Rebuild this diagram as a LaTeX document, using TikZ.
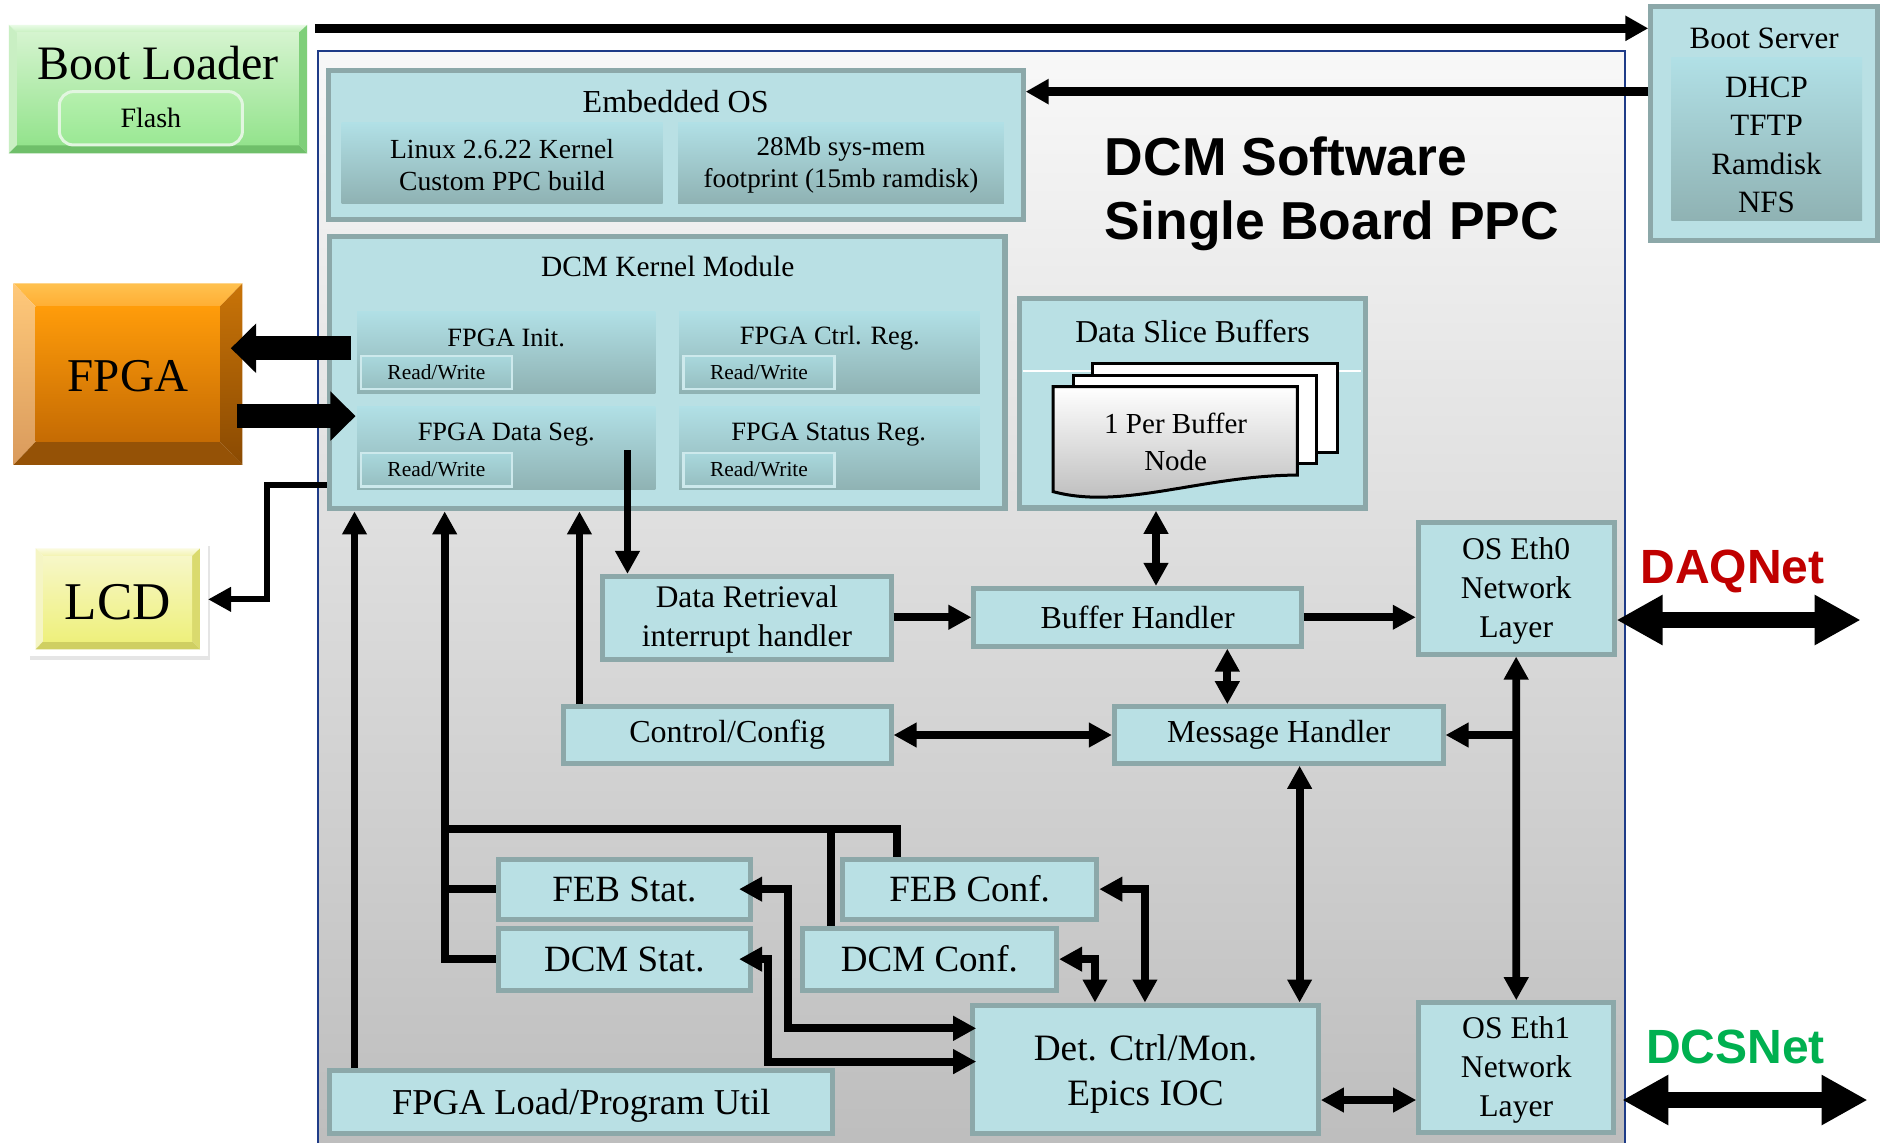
\documentclass[tikz,border=0pt]{standalone}
\usepackage{fontspec}
\setmainfont{Liberation Serif}
\newfontfamily\sansbf{Liberation Sans}
\usetikzlibrary{arrows.meta,fit,calc}
\definecolor{bfill}{HTML}{B9E0E4}
\definecolor{bbord}{HTML}{8CA8A9}
\definecolor{ptop}{HTML}{B1E0E6}
\definecolor{pbot}{HTML}{8FB2B3}
\definecolor{rwbord}{HTML}{CDE9EC}
\definecolor{rwtop}{HTML}{A9D8DD}
\definecolor{rwbot}{HTML}{96BEC0}
\definecolor{boardtop}{HTML}{F8F8F8}
\definecolor{boardbot}{HTML}{BDBDBD}
\definecolor{boardb}{HTML}{1F3C88}
\definecolor{daqred}{HTML}{C00000}
\definecolor{dcsgreen}{HTML}{00B050}
\definecolor{blA}{HTML}{E8FBE5}\definecolor{blB}{HTML}{C8F0C0}\definecolor{blC}{HTML}{D5F4CF}
\definecolor{blD}{HTML}{93E38C}\definecolor{blE}{HTML}{C9EFC3}\definecolor{blF}{HTML}{7FCF7A}
\definecolor{blG}{HTML}{6FBF6A}\definecolor{flA}{HTML}{E2F6E0}\definecolor{flB}{HTML}{B6F0AE}
\definecolor{flC}{HTML}{9AE894}
\definecolor{fA}{HTML}{FFC14F}\definecolor{fB}{HTML}{FFAE33}\definecolor{fC}{HTML}{FFC97A}
\definecolor{fD}{HTML}{D99A5C}\definecolor{fE}{HTML}{C97408}\definecolor{fF}{HTML}{8A4A02}
\definecolor{fG}{HTML}{955206}\definecolor{fH}{HTML}{FF9C0A}\definecolor{fI}{HTML}{C56B03}
\definecolor{lA}{HTML}{FBFBE0}\definecolor{lB}{HTML}{F3F3B0}\definecolor{lC}{HTML}{F5F5C4}
\definecolor{lD}{HTML}{DADA6E}\definecolor{lE}{HTML}{CFCF62}\definecolor{lF}{HTML}{F7F7C8}
\definecolor{lG}{HTML}{EEF07C}\definecolor{dgray}{HTML}{B8B8B8}
\newcommand\fsz[2]{\fontsize{#1pt}{#2pt}\selectfont}
\begin{document}
\begin{tikzpicture}[x=0.6pt,y=-0.6pt,
  box/.style={draw=bbord, line width=2.5pt, fill=bfill, inner sep=0pt},
  panel/.style={draw=none, top color=ptop, bottom color=pbot, inner sep=0pt},
  rwbox/.style={draw=rwbord, line width=1.2pt, top color=rwtop, bottom color=rwbot, inner sep=0pt},
  lbl/.style={inner sep=0pt, align=center},
  rwt/.style={lbl, font=\fsz{10.7}{12}},
  conn/.style={line width=3.9pt, line join=miter, -{Triangle[length=11.5pt,width=11.7pt]}},
  dconn/.style={line width=3.9pt, line join=miter, {Triangle[length=11.5pt,width=11.7pt]}-{Triangle[length=11.5pt,width=11.7pt]}},
  wire/.style={line width=3.9pt, line join=miter},
  thickconn/.style={line width=4.2pt, -{Triangle[length=11.5pt,width=12pt]}},
  bigd/.style={line width=8.3pt, {Triangle[length=23pt,width=23.5pt]}-{Triangle[length=23pt,width=23.5pt]}},
  fatarrow/.style={line width=12pt, -{Triangle[length=12.6pt,width=24pt]}}
]
\clip (0,0) rectangle (1568,951);
\fill[white] (0,0) rectangle (1568,951);

% ---------- board ----------
\node[fit={(264.7,42.2) (1352.8,962)}, inner sep=0pt, draw=boardb, line width=1pt,
      top color=boardtop, bottom color=boardbot] (board) {};

% ---------- Boot Loader ----------
\shade[top color=blA, bottom color=blB] (7.4,20.8) -- (255.8,20.8) -- (249,27) -- (14,27) -- cycle;
\shade[top color=blC, bottom color=blD] (14,27) rectangle (249,121);
\fill[blE] (7.4,20.8) -- (14,27) -- (14,121) -- (7.4,127.7) -- cycle;
\fill[blF] (255.8,20.8) -- (249,27) -- (249,121) -- (255.8,127.7) -- cycle;
\fill[blG] (7.4,127.7) -- (14,121) -- (249,121) -- (255.8,127.7) -- cycle;
\node[fit={(7.4,20.8) (255.8,127.7)}, inner sep=0pt] (bootloader) {};
\node[lbl, anchor=base, font=\fsz{24}{28}] (bltext) at (131.6,66.6) {Boot Loader};
\node[fit={(49.4,76.3) (201.9,120.7)}, inner sep=0pt, rounded corners=7pt, draw=flA, line width=1.5pt,
      top color=flB, bottom color=flC] (flash) {};
\node[lbl, font=\fsz{14}{16}] (flashT) at (flash.center) {Flash};

% ---------- Boot Server ----------
\node[box, fit={(1374.6,5.6) (1563.3,199.9)}] (bootserver) {};
\node[lbl, font=\fsz{15.5}{19}] (bstitle) at (1469,31.9) {Boot Server};
\node[panel, fit={(1391.7,47.7) (1550.5,183.8)}] (bsinner) {};
\node[lbl, font=\fsz{15.5}{19.2}] (bstext) at (1471,120.5) {DHCP\\TFTP\\Ramdisk\\NFS};

% ---------- Embedded OS ----------
\node[box, fit={(273.2,58.3) (852,183)}] (embos) {};
\node[lbl, font=\fsz{16}{19}] (embtitle) at (562.6,84.7) {Embedded OS};
\node[panel, fit={(284.4,102) (551.7,169.3)}] (linux) {};
\node[lbl, font=\fsz{13.8}{15.8}] (linuxT) at ($(linux.center)+(0,2)$) {Linux 2.6.22 Kernel\\Custom PPC build};
\node[panel, fit={(564.7,102) (836,169.3)}] (mem) {};
\node[lbl, font=\fsz{13.5}{15.8}] (memT) at ($(mem.center)+(0,2)$) {28Mb sys-mem\\footprint (15mb ramdisk)};

% ---------- Title ----------
\node[lbl, anchor=base west, font=\sansbf\bfseries\fsz{26.7}{32}] (title1) at (919.7,146) {DCM Software};
\node[lbl, anchor=base west, font=\sansbf\bfseries\fsz{26.7}{32}] (title2) at (919.7,199.5) {Single Board PPC};

% ---------- Kernel module ----------
\node[box, line width=2.8pt, fit={(274.4,197) (837,423.5)}] (kernel) {};
\node[lbl, font=\fsz{14.7}{17}] (kertitle) at (556,222) {DCM Kernel Module};
\node[panel, fit={(297.4,259) (545.7,327.5)}] (fpgainit) {};
\node[lbl, font=\fsz{13.2}{15}] (t1) at (421.5,281.7) {FPGA Init.};
\node[rwbox, fit={(300.4,296.4) (426.4,324)}] (rw1) {};
\node[rwt] (rw1T) at (rw1.center) {Read/Write};
\node[panel, fit={(565.5,259) (816,327.5)}] (fpgactrl) {};
\node[lbl, font=\fsz{13.2}{15}] (t2) at (691,281.7) {FPGA Ctrl. Reg.};
\node[rwbox, fit={(569,296.4) (695,324)}] (rw2) {};
\node[rwt] (rw2T) at (rw2.center) {Read/Write};
\node[panel, fit={(297.4,338.3) (545.7,408)}] (fpgadata) {};
\node[lbl, font=\fsz{13.2}{15}] (t3) at (421.5,362) {FPGA Data Seg.};
\node[rwbox, fit={(300.4,377) (426.4,405)}] (rw3) {};
\node[rwt] (rw3T) at (rw3.center) {Read/Write};
\node[panel, fit={(565.5,338.3) (816,408)}] (fpgastat) {};
\node[lbl, font=\fsz{13.2}{15}] (t4) at (690,362) {FPGA Status Reg.};
\node[rwbox, fit={(569,377) (695,405)}] (rw4) {};
\node[rwt] (rw4T) at (rw4.center) {Read/Write};

% ---------- FPGA ----------
\shade[top color=fA, bottom color=fB] (11.2,235.9) -- (201.9,235.9) -- (183,255.4) -- (29.7,255.4) -- cycle;
\shade[top color=fC, bottom color=fD] (11.2,235.9) -- (29.7,255.4) -- (29.7,367.8) -- (11.2,387.2) -- cycle;
\shade[top color=fE, bottom color=fF] (201.9,235.9) -- (183,255.4) -- (183,367.8) -- (201.9,387.2) -- cycle;
\fill[fG] (11.2,387.2) -- (29.7,367.8) -- (183,367.8) -- (201.9,387.2) -- cycle;
\shade[top color=fH, bottom color=fI] (29.7,255.4) rectangle (183,367.8);
\node[fit={(11.2,235.9) (201.9,387.2)}, inner sep=0pt] (fpga) {};
\node[lbl, anchor=base, font=\fsz{23.5}{27}] (fpgatext) at (106.5,326) {FPGA};

% ---------- LCD ----------
\fill[black!10] (25,455) rectangle (175,550);
\fill[white] (23,451.9) rectangle (172.9,546.3);
\shade[top color=lA, bottom color=lB] (29.7,456.6) -- (166.5,456.6) -- (160,463) -- (36,463) -- cycle;
\fill[lC] (29.7,456.6) -- (36,463) -- (36,534) -- (29.7,540.7) -- cycle;
\fill[lD] (166.5,456.6) -- (160,463) -- (160,534) -- (166.5,540.7) -- cycle;
\fill[lE] (29.7,540.7) -- (36,534) -- (160,534) -- (166.5,540.7) -- cycle;
\shade[top color=lF, bottom color=lG] (36,463) rectangle (160,534);
\node[fit={(23,451.9) (172.9,546.3)}, inner sep=0pt] (lcd) {};
\node[lbl, anchor=base, font=\fsz{26.5}{30}] (lcdtext) at (98,515.7) {LCD};

% ---------- Data slice buffers ----------
\node[box, line width=2.8pt, fit={(849,248.5) (1137,423)}] (dsb) {};
\node[lbl, font=\fsz{15.9}{19}] (dsbtitle) at (993,276) {Data Slice Buffers};
\draw[white, line width=0.8pt] (852,309) -- (1133,309);
\filldraw[fill=white, draw=black, line width=1.5pt] (909.5,302.6) rectangle (1113.4,376.7);
\filldraw[fill=white, draw=black, line width=1.5pt] (894,312.3) rectangle (1096.5,385.8);
\shade[top color=white, bottom color=dgray] (877,322) -- (1080.3,322) -- (1080.3,395.6)
   .. controls (1000,396) and (935,425) .. (877,409.4) -- cycle;
\draw[black, line width=1.5pt] (877,322) -- (1080.3,322) -- (1080.3,395.6)
   .. controls (1000,396) and (935,425) .. (877,409.4) -- cycle;
\node[lbl, font=\fsz{14.5}{18}] (bufnode) at (979,368) {1 Per Buffer\\Node};

% ---------- handlers ----------
\node[box, fit={(502,480) (742,549.5)}] (dataret) {};
\node[lbl, font=\fsz{15.7}{19.2}] (dataretT) at ($(dataret.center)+(0,1)$) {Data Retrieval\\interrupt handler};
\node[box, fit={(811,490) (1083.7,538)}] (bufh) {};
\node[lbl, font=\fsz{16}{19}] (bufhT) at (bufh.center) {Buffer Handler};
\node[box, fit={(1181,435) (1344,544.6)}] (eth0) {};
\node[lbl, font=\fsz{15.8}{19.5}] (eth0T) at ($(eth0.center)+(0,2)$) {OS Eth0\\Network\\Layer};
\node[box, fit={(469,588.5) (742,635.6)}] (ctrl) {};
\node[lbl, font=\fsz{16}{19}] (ctrlT) at (ctrl.center) {Control/Config};
\node[box, fit={(928,588.5) (1201.6,635.6)}] (msgh) {};
\node[lbl, font=\fsz{16}{19}] (msghT) at (msgh.center) {Message Handler};
\node[box, fit={(414.7,715.3) (625,765.5)}] (febstat) {};
\node[lbl, font=\fsz{18.5}{22}] (febstatT) at (febstat.center) {FEB Stat.};
\node[box, fit={(414.7,773) (625,824.4)}] (dcmstat) {};
\node[lbl, font=\fsz{18.5}{22}] (dcmstatT) at (dcmstat.center) {DCM Stat.};
\node[box, fit={(701.5,715.3) (913.3,765.5)}] (febconf) {};
\node[lbl, font=\fsz{18.5}{22}] (febconfT) at (febconf.center) {FEB Conf.};
\node[box, fit={(668,773) (879.8,824.4)}] (dcmconf) {};
\node[lbl, font=\fsz{18.5}{22}] (dcmconfT) at (dcmconf.center) {DCM Conf.};
\node[box, fit={(810,836.9) (1097.8,943.5)}] (det) {};
\node[lbl, font=\fsz{18.6}{22.2}] (detT) at ($(det.center)+(0,4)$) {Det. Ctrl/Mon.\\Epics IOC};
\node[box, fit={(1181.4,835) (1343.8,943)}] (eth1) {};
\node[lbl, font=\fsz{15.8}{19.5}] (eth1T) at ($(eth1.center)+(0,2)$) {OS Eth1\\Network\\Layer};
\node[box, fit={(274.7,891.6) (693.4,943.7)}] (fpgaload) {};
\node[lbl, font=\fsz{18.2}{22}] (fpgaloadT) at ($(fpgaload.center)+(0,3)$) {FPGA Load/Program Util};

\node[lbl, anchor=base west, text=daqred, font=\sansbf\bfseries\fsz{24}{28}] (daqnet) at (1365.6,485.7) {DAQNet};
\node[lbl, anchor=base west, text=dcsgreen, font=\sansbf\bfseries\fsz{24}{28}] (dcsnet) at (1370.3,885.4) {DCSNet};

% ---------- helper coordinates ----------
\coordinate (ytop) at (0,23.6);
\coordinate (yboot) at (0,76.3);
\coordinate (yfin) at (0,290);
\coordinate (yfout) at (0,346.5);
\coordinate (lcdj) at (222,404);
\coordinate (xd) at (522.5,375);
\coordinate (xv) at (962.6,0);
\coordinate (xbm) at (1022,0);
\coordinate (xc) at (482.5,0);
\coordinate (xmd) at (1082.2,0);
\coordinate (yde) at (0,916);
\coordinate (daqend) at (1549.4,516.3);
\coordinate (dcsend) at (1555.2,916);
\coordinate (xl) at (295.2,0);
\coordinate (xs) at (370.3,0);
\coordinate (j690) at (370.3,690.6);
\coordinate (xfc) at (747,0);
\coordinate (j692) at (692,687.5);
\coordinate (x656) at (656.2,0);
\coordinate (y856) at (0,856.3);
\coordinate (x639) at (639.4,0);
\coordinate (y884) at (0,884);
\coordinate (x953) at (953.4,0);
\coordinate (x912) at (911.8,0);

% ---------- connectors ----------
\draw[thickconn] ($(bootloader.east |- ytop)+(6,0)$) -- (bootserver.west |- ytop);
\draw[thickconn] (bootserver.west |- yboot) -- (embos.east |- yboot);
\draw[fatarrow] ($(fpgainit.west |- yfin)+(-5,0)$) -- ($(fpga.east |- yfin)+(-10,0)$);
\draw[fatarrow] ($(fpga.east |- yfout)+(-5,0)$) -- ($(fpgadata.west |- yfout)+(-1,0)$);
\draw[conn, line width=3pt] (kernel.west |- lcdj) -- (lcdj) |- (lcd.east);
\draw[conn] (xd) -- (dataret.north -| xd);
\draw[conn] (bufh.west -| dataret.east) -- (bufh.west);
\draw[dconn] (bufh.north -| xv) -- (dsb.south -| xv);
\draw[conn] (bufh.east) -- (eth0.west |- bufh.east);
\draw[bigd] (eth0.east |- daqend) -- (daqend);
\draw[dconn] (bufh.south -| xbm) -- (msgh.north -| xbm);
\draw[dconn] (ctrl.east) -- (msgh.west);
\draw[dconn] (eth0.south) -- (eth1.north);
\draw[conn] (msgh.east -| eth0.south) -- (msgh.east);
\draw[conn] (ctrl.north -| xc) -- (kernel.south -| xc);
\draw[dconn] (msgh.south -| xmd) -- (det.north -| xmd);
\draw[dconn] (det.east |- yde) -- (eth1.west |- yde);
\draw[bigd] ($(eth1.east |- dcsend)+(5,0)$) -- (dcsend);
\draw[conn] (fpgaload.north -| xl) -- (kernel.south -| xl);
\draw[conn] (dcmstat.west) -- (dcmstat.west -| xs) -- (kernel.south -| xs);
\draw[wire] (febstat.west) -- (febstat.west -| xs);
\draw[wire] (j690) -| (febconf.north -| xfc);
\draw[wire] (dcmconf.north -| j692) -- (j692);
\draw[dconn, shorten <=-7pt, shorten >=-3pt] (febstat.east) -- (febstat.east -| x656) |- (det.west |- y856);
\draw[dconn, shorten <=-7pt, shorten >=-3pt] (dcmstat.east) -- (dcmstat.east -| x639) |- (det.west |- y884);
\draw[dconn] (febconf.east) -| (det.north -| x953);
\draw[dconn] (dcmconf.east) -| (det.north -| x912);
\end{tikzpicture}
\end{document}
